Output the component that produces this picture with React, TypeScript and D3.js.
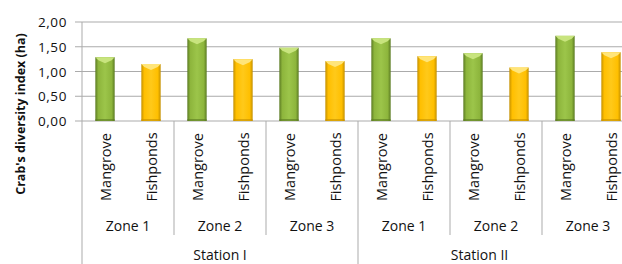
import React from "react";
import * as d3 from "d3";

const stations = ["Station I", "Station II"];
const zones = ["Zone 1", "Zone 2", "Zone 3"];
const habitats = ["Mangrove", "Fishponds"];
const mangroveValues = [1.29, 1.67, 1.48, 1.67, 1.37, 1.72];
const fishpondValues = [1.15, 1.25, 1.21, 1.31, 1.08, 1.39];
const yTicks = [0, 0.5, 1.0, 1.5, 2.0];

const W = 622;
const H = 264;
const left = 82;
const right = 634;
const top = 22;
const bottom = 121;
const visibleRight = 601;

type Bar = { key: string; station: string; zone: string; habitat: string; value: number };

const bars: Bar[] = [];
stations.forEach((s, si) => {
  zones.forEach((z, zi) => {
    const idx = si * zones.length + zi;
    habitats.forEach((h) => {
      bars.push({
        key: `${s}|${z}|${h}`,
        station: s,
        zone: z,
        habitat: h,
        value: h === "Mangrove" ? mangroveValues[idx] : fishpondValues[idx],
      });
    });
  });
});

const x = d3
  .scaleBand<string>()
  .domain(bars.map((b) => b.key))
  .range([left, right])
  .paddingInner(0.58)
  .paddingOuter(0.29);
const step = x.step();
const y = d3.scaleLinear().domain([0, 2]).range([bottom, top]);
const fmt = (v: number) => d3.format(".2f")(v).replace(".", ",");

const palette: Record<string, { edge: string; mid: string; light: string; tip: string }> = {
  Mangrove: { edge: "#5a7a22", mid: "#8db53c", light: "#9cc54a", tip: "#c8e47e" },
  Fishponds: { edge: "#c49000", mid: "#ffbf00", light: "#ffc91a", tip: "#ffe57a" },
};

const font = "'Open Sans', sans-serif";
const textColor = "#111";

export default function App() {
  const bandStart = (i: number) => left + i * step;
  return (
    <svg
      width={W}
      height={H}
      style={{ position: "absolute", left: 0, top: 0, background: "#fff" }}
      fontFamily={font}
    >
      <defs>
        {habitats.map((h) => (
          <linearGradient key={h} id={`g-${h}`} x1="0" x2="1" y1="0" y2="0">
            <stop offset="0" stopColor={palette[h].edge} />
            <stop offset="0.15" stopColor={palette[h].mid} />
            <stop offset="0.5" stopColor={palette[h].light} />
            <stop offset="0.85" stopColor={palette[h].mid} />
            <stop offset="1" stopColor={palette[h].edge} />
          </linearGradient>
        ))}
      </defs>

      {/* gridlines */}
      {yTicks.map((t) => (
        <g key={t}>
          <line x1={left - 7} x2={W} y1={y(t)} y2={y(t)} stroke="#ababab" strokeWidth={1} />
          <text
            x={67}
            y={y(t)}
            textAnchor="end"
            dominantBaseline="central"
            fontSize={13.5}
            fill={textColor}
            letterSpacing={0.6}
          >
            {fmt(t)}
          </text>
        </g>
      ))}

      {/* bars */}
      {bars.map((b) => {
        const bx = x(b.key)!;
        const bw = x.bandwidth();
        const by = y(b.value);
        const bh = bottom - by;
        const p = palette[b.habitat];
        const tipH = 6;
        return (
          <g key={b.key}>
            <rect x={bx} y={by} width={bw} height={bh} fill={`url(#g-${b.habitat})`} />
            <polygon
              points={`${bx},${by} ${bx + bw},${by} ${bx + bw - 3},${by + 3} ${bx + bw / 2},${by + tipH} ${bx + 3},${by + 3}`}
              fill={p.tip}
            />
            <rect x={bx} y={bottom - 2} width={bw} height={2} fill={p.edge} opacity={0.6} />
          </g>
        );
      })}

      {/* axis lines */}
      <line x1={left} x2={left} y1={top} y2={H} stroke="#ababab" />
      {stations.map((s, si) =>
        zones.map((z, zi) => {
          const i = (si * zones.length + zi) * habitats.length;
          const xs = bandStart(i);
          if (i === 0) return null;
          const isStation = zi === 0;
          return (
            <line
              key={`${s}${z}`}
              x1={xs}
              x2={xs}
              y1={bottom}
              y2={isStation ? H : 235}
              stroke="#ababab"
            />
          );
        })
      )}

      {/* category labels */}
      {bars.map((b) => {
        const cx = x(b.key)! + x.bandwidth() / 2;
        return (
          <text
            key={`l-${b.key}`}
            transform={`translate(${cx},167) rotate(-90)`}
            textAnchor="middle"
            dominantBaseline="central"
            fontSize={14.5}
            fill={textColor}
          >
            {b.habitat}
          </text>
        );
      })}

      {/* zone labels */}
      {stations.map((s, si) =>
        zones.map((z, zi) => {
          const i = (si * zones.length + zi) * habitats.length;
          const cx = bandStart(i) + step;
          return (
            <text
              key={`z-${s}${z}`}
              x={cx}
              y={225}
              textAnchor="middle"
              dominantBaseline="central"
              fontSize={14}
              fill={textColor}
            >
              {z}
            </text>
          );
        })
      )}

      {/* station labels */}
      {stations.map((s, si) => {
        const x0 = bandStart(si * zones.length * habitats.length);
        const x1 = Math.min(bandStart((si + 1) * zones.length * habitats.length), visibleRight);
        return (
          <text
            key={`s-${s}`}
            x={(x0 + x1) / 2}
            y={254}
            textAnchor="middle"
            dominantBaseline="central"
            fontSize={14}
            fill={textColor}
          >
            {s}
          </text>
        );
      })}

      {/* y title */}
      <text
        transform={`translate(20,114) rotate(-90)`}
        textAnchor="middle"
        dominantBaseline="central"
        fontSize={12.5}
        fontWeight="bold"
        fill={textColor}
      >
        Crab's diversity index (ha)
      </text>
    </svg>
  );
}
